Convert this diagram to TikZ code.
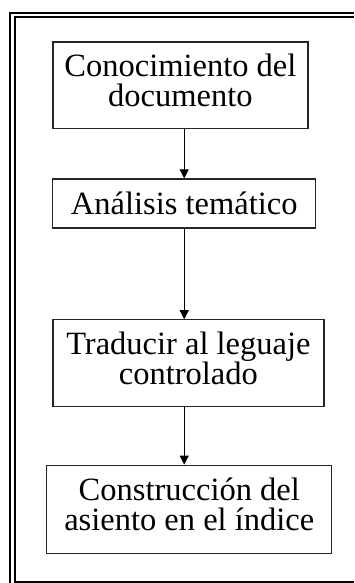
\documentclass[tikz,border=0pt]{standalone}
\usepackage{fontspec}
\setmainfont{Liberation Serif}
\usetikzlibrary{arrows.meta}
\newcommand{\lowstrut}{\rule[-10pt]{0pt}{10pt}}
\begin{document}
\begin{tikzpicture}[x=1pt,y=-1pt,
  stepbox/.style={draw=black!85, line width=1.3pt, inner sep=0pt, align=center,
    font=\fontsize{32.5}{30}\selectfont},
  arr/.style={line width=1.2pt, -{Triangle[width=9pt,length=9pt]}},
  frameouter/.style={line width=2.4pt},
  frameinner/.style={line width=1.8pt}]
\useasboundingbox (0,0) rectangle (354,583);
% frame
\draw[frameouter] (9.7,583) -- (9.7,12.8) -- (354,12.8);
\draw[frameinner] (14.8,583) -- (14.8,17.3) -- (354,17.3);
\draw[line width=1.6pt] (14.8,581.8) -- (354,581.8);
% boxes
\node[stepbox, minimum width=255pt, minimum height=86.5pt] (b1) at (180.4,85.2) {Conocimiento del\\documento\lowstrut};
\node[stepbox, minimum width=263pt, minimum height=49pt] (b2) at (184.2,203.5) {Análisis temático};
\node[stepbox, minimum width=271pt, minimum height=87pt] (b3) at (188.4,363.3) {Traducir al leguaje\\controlado\lowstrut};
\node[stepbox, minimum width=285pt, minimum height=88.5pt] (b4) at (189.3,509.5) {Construcción del\\asiento en el índice\lowstrut};
% arrows
\draw[arr] (b1.south -| b2.north) -- (b2.north);
\draw[arr] (b2.south) -- (b3.north -| b2.south);
\draw[arr] (b3.south -| b2.south) -- (b4.north -| b2.south);
\end{tikzpicture}
\end{document}
